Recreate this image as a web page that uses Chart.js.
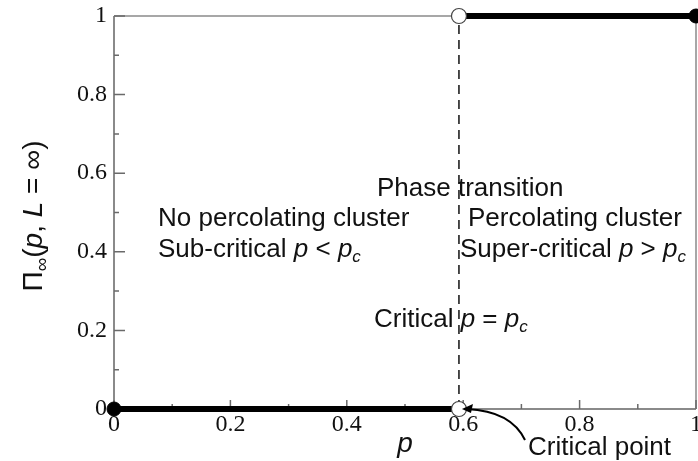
<!DOCTYPE html>
<html>
<head>
<meta charset="utf-8">
<script src="https://cdn.jsdelivr.net/npm/chart.js@4.4.1/dist/chart.umd.min.js"></script>
<style>
html,body{margin:0;padding:0;background:#fff;}
#wrap{width:698px;height:461px;position:relative;}
</style>
</head>
<body>
<div id="wrap"><canvas id="c" width="698" height="461"></canvas></div>
<script>
// ---- data ----
const criticalP = 0.5927;
const subCriticalP = [0, criticalP];
const subCriticalPi = [0, 0];
const superCriticalP = [criticalP, 1];
const superCriticalPi = [1, 1];
const transitionP = [criticalP, criticalP];
const transitionPi = [0, 1];
const closedP = [0, 1];
const closedPi = [0, 1];
const openP = [criticalP, criticalP];
const openPi = [0, 1];
const xTickValues = [0, 0.2, 0.4, 0.6, 0.8, 1];
const yTickValues = [0, 0.2, 0.4, 0.6, 0.8, 1];
const minorTickValues = [0.1, 0.3, 0.5, 0.7, 0.9];

const pts = (xs, ys) => xs.map((x, i) => ({x: x, y: ys[i]}));
const fmt = v => String(Math.round(v * 10) / 10);

const SANS = '"Liberation Sans", Arial, Helvetica, sans-serif';
const SERIF = '"Liberation Serif", "Times New Roman", serif';

function drawRich(ctx, parts, x, y) {
  let cx = x;
  for (const p of parts) {
    const size = p[2] || 26;
    ctx.font = (p[1] === 'i' ? 'italic ' : '') + size + 'px ' + SANS;
    ctx.fillText(p[0], cx, y + (p[3] || 0));
    cx += ctx.measureText(p[0]).width;
  }
  return cx;
}

const decor = {
  id: 'decor',
  beforeDatasetsDraw(chart) {
    const ctx = chart.ctx, xs = chart.scales.x, ys = chart.scales.y;
    const a = chart.chartArea;
    ctx.save();
    ctx.strokeStyle = '#8a8a8a';
    ctx.lineWidth = 2;
    ctx.beginPath();
    ctx.moveTo(a.left, a.top); ctx.lineTo(a.left, a.bottom); ctx.lineTo(a.right, a.bottom);
    ctx.stroke();
    ctx.lineWidth = 1.5;
    ctx.beginPath();
    ctx.moveTo(a.left, a.top); ctx.lineTo(a.right, a.top);
    ctx.moveTo(a.right, a.top); ctx.lineTo(a.right, a.bottom);
    ctx.stroke();
    ctx.lineWidth = 1.5;
    ctx.strokeStyle = '#6a6a6a';
    ctx.beginPath();
    for (const v of xTickValues) {
      const px = xs.getPixelForValue(v);
      ctx.moveTo(px, a.bottom); ctx.lineTo(px, a.bottom - 9);
    }
    for (const v of minorTickValues) {
      const px = xs.getPixelForValue(v);
      ctx.moveTo(px, a.bottom); ctx.lineTo(px, a.bottom - 5);
    }
    for (const v of yTickValues) {
      const py = ys.getPixelForValue(v);
      ctx.moveTo(a.left, py); ctx.lineTo(a.left + 11, py);
    }
    for (const v of minorTickValues) {
      const py = ys.getPixelForValue(v);
      ctx.moveTo(a.left, py); ctx.lineTo(a.left + 5, py);
    }
    ctx.stroke();
    ctx.restore();
  },
  afterDraw(chart) {
    const ctx = chart.ctx, xs = chart.scales.x, ys = chart.scales.y;
    const a = chart.chartArea;
    ctx.save();
    ctx.fillStyle = '#111';
    ctx.textBaseline = 'alphabetic';
    ctx.textAlign = 'left';
    drawRich(ctx, [['Phase transition', 'n']], 377, 196);
    drawRich(ctx, [['No percolating cluster', 'n']], 158, 226);
    drawRich(ctx, [['Sub-critical ', 'n'], ['p', 'i'], [' < ', 'n'], ['p', 'i'], ['c', 'i', 17, 5]], 158, 257);
    drawRich(ctx, [['Percolating cluster', 'n']], 468, 226);
    drawRich(ctx, [['Super-critical ', 'n'], ['p', 'i'], [' > ', 'n'], ['p', 'i'], ['c', 'i', 17, 5]], 460, 257);
    drawRich(ctx, [['Critical ', 'n'], ['p', 'i'], [' = ', 'n'], ['p', 'i'], ['c', 'i', 17, 5]], 374, 327);
    drawRich(ctx, [['Critical point', 'n']], 528, 455);
    ctx.font = 'italic 28px ' + SANS;
    ctx.textAlign = 'center';
    ctx.fillText('p', (a.left + a.right) / 2, 452);
    ctx.save();
    ctx.translate(42, 216);
    ctx.rotate(-Math.PI / 2);
    ctx.textAlign = 'left';
    const parts = [['\u03A0', 'n', 28], ['\u221E', 'n', 19, 6], ['(', 'n', 28], ['p', 'i', 28], [', ', 'n', 28], ['L', 'i', 28], [' = ', 'n', 28], ['\u221E', 'n', 28], [')', 'n', 28]];
    let w = 0;
    for (const p of parts) { ctx.font = (p[1] === 'i' ? 'italic ' : '') + p[2] + 'px ' + SANS; w += ctx.measureText(p[0]).width; }
    drawRich(ctx, parts, -w / 2, 0);
    ctx.restore();
    const cx = xs.getPixelForValue(criticalP), cy = ys.getPixelForValue(0);
    ctx.strokeStyle = '#000';
    ctx.lineWidth = 2;
    ctx.beginPath();
    ctx.moveTo(525, 440);
    ctx.quadraticCurveTo(511, 411, cx + 8, cy);
    ctx.stroke();
    ctx.beginPath();
    ctx.fillStyle = '#000';
    ctx.moveTo(cx + 3, cy);
    ctx.lineTo(cx + 14, cy - 5);
    ctx.lineTo(cx + 12, cy + 4);
    ctx.closePath();
    ctx.fill();
    ctx.restore();
  }
};

new Chart(document.getElementById('c'), {
  type: 'scatter',
  data: {
    datasets: [
      { data: pts(openP, openPi), showLine: false, pointRadius: 7.5, pointBackgroundColor: '#fff', pointBorderColor: '#444', pointBorderWidth: 1.2, order: 0 },
      { data: pts(closedP, closedPi), showLine: false, pointRadius: 7, pointBackgroundColor: '#000', pointBorderColor: '#000', order: 1 },
      { data: pts(subCriticalP, subCriticalPi), showLine: true, borderColor: '#000', borderWidth: 6, pointRadius: 0, order: 2 },
      { data: pts(superCriticalP, superCriticalPi), showLine: true, borderColor: '#000', borderWidth: 6, pointRadius: 0, order: 2 },
      { data: pts(transitionP, transitionPi), showLine: true, borderColor: '#111', borderWidth: 1.5, borderDash: [9, 6], pointRadius: 0, order: 3 }
    ]
  },
  options: {
    responsive: false,
    animation: false,
    events: [],
    clip: false,
    layout: { autoPadding: false, padding: { left: 0, right: 2, top: 16, bottom: 0 } },
    plugins: { legend: { display: false }, tooltip: { enabled: false } },
    scales: {
      x: {
        type: 'linear', min: 0, max: 1,
        grid: { display: false, drawTicks: false },
        border: { display: false },
        ticks: { stepSize: 0.2, padding: 1, color: '#111', font: { family: SERIF, size: 24 }, callback: v => fmt(v) },
        afterFit(s) { s.height = 52; s.paddingLeft = 0; s.paddingRight = 0; }
      },
      y: {
        type: 'linear', min: 0, max: 1,
        grid: { display: false, drawTicks: false },
        border: { display: false },
        ticks: { stepSize: 0.2, padding: 7, color: '#111', font: { family: SERIF, size: 24 }, callback: v => fmt(v) },
        afterFit(s) { s.width = 114; s.paddingTop = 0; s.paddingBottom = 0; }
      }
    }
  },
  plugins: [decor]
});
</script>
</body>
</html>
